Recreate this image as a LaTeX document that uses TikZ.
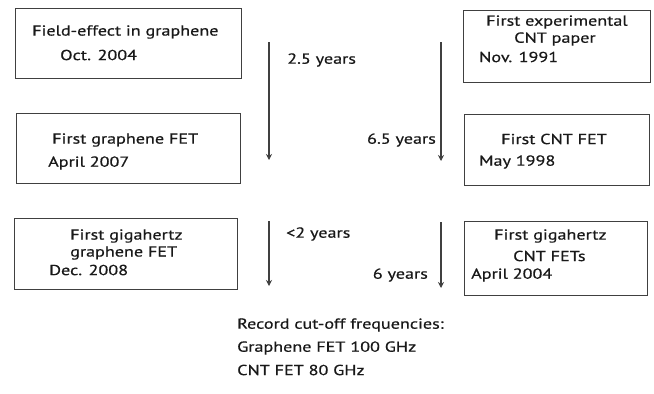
\documentclass[tikz,border=0pt]{standalone}
\usepackage{fontspec}
\setmainfont[FakeStretch=1.25,FakeBold=0.6]{PT Sans}
\usetikzlibrary{arrows.meta}
\begin{document}
\begin{tikzpicture}[x=1pt,y=-1pt,
  evbox/.style={draw=black!75,line width=0.9pt,inner sep=0pt},
  txt/.style={anchor=west,inner sep=0pt,font=\fontsize{14.5}{16}\selectfont,text=black!90},
  gap/.style={draw=black!75,line width=1.8pt,-{Stealth[length=6pt,width=6pt]}},
  lbl/.style={inner sep=0pt,font=\fontsize{14.5}{16}\selectfont,text=black!90}]
\useasboundingbox (0,0) rectangle (654,394);
% boxes
\node[evbox,minimum width=226pt,minimum height=70pt] (b1) at (128,43) {};
\node[evbox,minimum width=224pt,minimum height=70pt] (b2) at (128.5,148) {};
\node[evbox,minimum width=223pt,minimum height=71pt] (b3) at (125.5,253.5) {};
\node[evbox,minimum width=187pt,minimum height=72pt] (b4) at (556.5,46) {};
\node[evbox,minimum width=185pt,minimum height=71pt] (b5) at (556.5,149.5) {};
\node[evbox,minimum width=183pt,minimum height=74pt] (b6) at (555.5,258) {};
% texts
\node[txt] (t11) at (32,32) {Field-effect in graphene};
\node[txt] (t12) at (60,55) {Oct. 2004};
\node[txt] (t21) at (52,140) {First graphene FET};
\node[txt] (t22) at (48,163) {April 2007};
\node[txt] (t31) at (70,236) {First gigahertz};
\node[txt] (t32) at (70,253) {graphene FET};
\node[txt] (t33) at (49,270) {Dec. 2008};
\node[txt] (t41) at (486,22) {First experimental};
\node[txt] (t42) at (514,39) {CNT paper};
\node[txt] (t43) at (479,57) {Nov. 1991};
\node[txt] (t51) at (501,139) {First CNT FET};
\node[txt] (t52) at (479,162) {May 1998};
\node[txt] (t61) at (494,236) {First gigahertz};
\node[txt] (t62) at (513,256) {CNT FETs};
\node[txt] (t63) at (471,275) {April 2004};
% arrows
\coordinate (a1s) at (269,42); \coordinate (a1e) at (269,160);
\coordinate (a2s) at (441,42); \coordinate (a2e) at (441,161);
\coordinate (a3s) at (269,221); \coordinate (a3e) at (269,286);
\coordinate (a4s) at (441,222); \coordinate (a4e) at (441,288);
\draw[gap] (a1s) -- (a1e);
\draw[gap] (a2s) -- (a2e);
\draw[gap] (a3s) -- (a3e);
\draw[gap] (a4s) -- (a4e);
\node[lbl,anchor=west] (l1) at (287,60) {2.5 years};
\node[lbl,anchor=east] (l2) at (436,140) {6.5 years};
\node[lbl,anchor=west] (l3) at (286,234) {<2 years};
\node[lbl,anchor=east] (l4) at (428,275) {6 years};
% record
\node[txt] (r1) at (237,325) {Record cut-off frequencies:};
\node[txt] (r2) at (237,348) {Graphene FET 100 GHz};
\node[txt] (r3) at (237,370) {CNT FET 80 GHz};
\end{tikzpicture}
\end{document}
